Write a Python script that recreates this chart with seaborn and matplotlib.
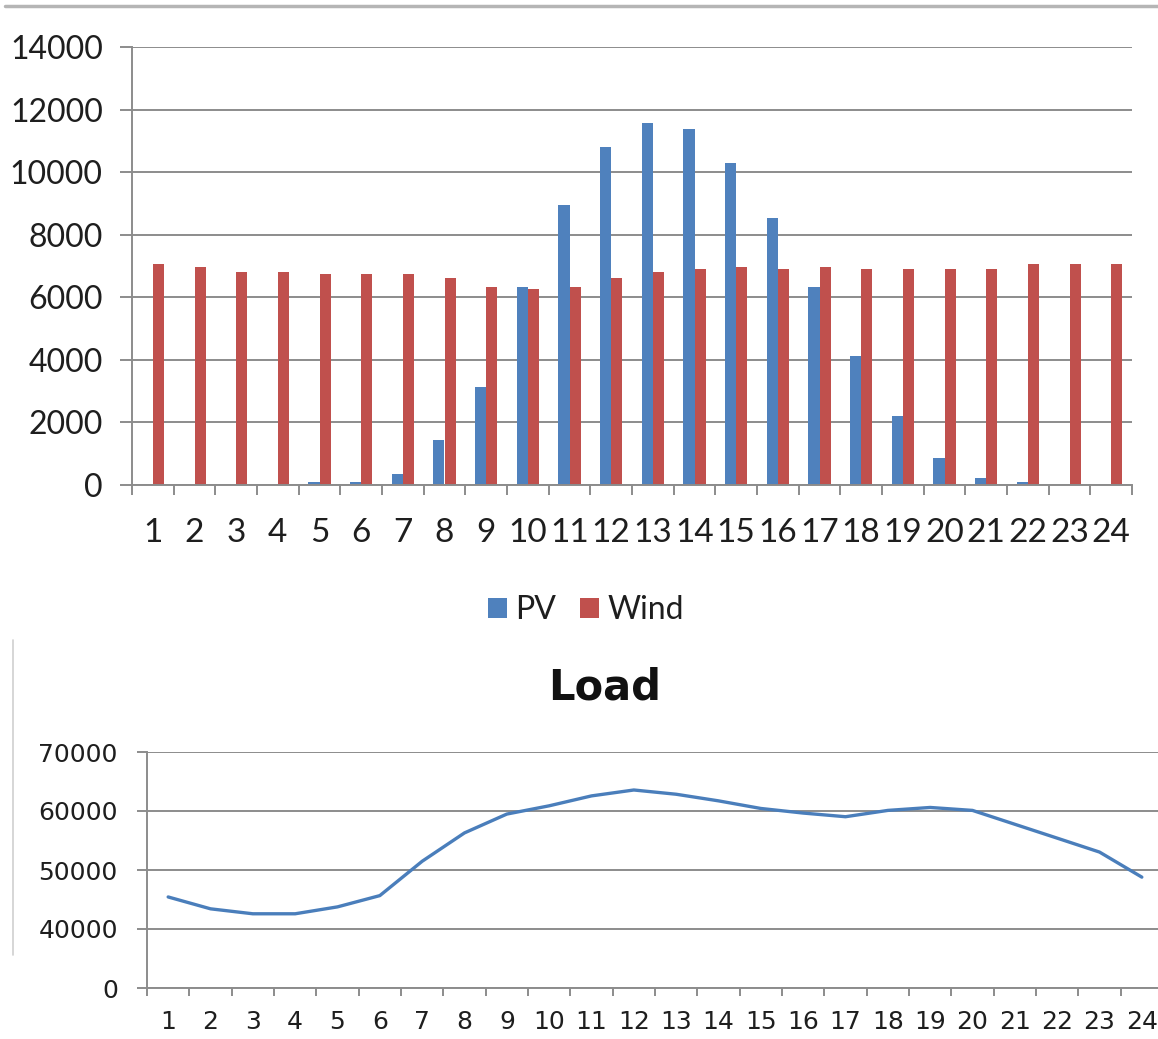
import matplotlib
matplotlib.use("Agg")
import matplotlib.pyplot as plt
import seaborn as sns
import pandas as pd
import numpy as np
from matplotlib.lines import Line2D
from matplotlib.patches import Patch

# ---------------- data ----------------
hours = [1, 2, 3, 4, 5, 6, 7, 8, 9, 10, 11, 12,
         13, 14, 15, 16, 17, 18, 19, 20, 21, 22, 23, 24]
pv = [0, 0, 0, 0, 80, 80, 350, 1430, 3130, 6330, 8960, 10790,
      11580, 11370, 10300, 8530, 6330, 4130, 2210, 860, 220, 80, 0, 0]
wind = [7050, 6980, 6820, 6820, 6750, 6750, 6750, 6610, 6330, 6270, 6330, 6610,
        6820, 6910, 6980, 6910, 6980, 6910, 6910, 6910, 6910, 7050, 7050, 7050]
load = [45430, 43420, 42580, 42580, 43750, 45660, 51480, 56290, 59480, 60880, 62560, 63560,
        62840, 61720, 60430, 59650, 59030, 60100, 60600, 60100, 57750, 55400, 53040, 48790]
series_names = ["PV", "Wind"]
top_yticks = [0, 2000, 4000, 6000, 8000, 10000, 12000, 14000]
load_yticks = [30000, 40000, 50000, 60000, 70000]
load_yticklabels = ["0", "40000", "50000", "60000", "70000"]
load_title = "Load"

BLUE = "#4F81BD"
RED = "#C0504D"
LINE = "#4A7EBB"
GRID = "#8c8c8c"
TXT = "#1e1e1e"

sns.set_theme(style="white")
plt.rcParams["font.family"] = ["Lato", "DejaVu Sans"]

W, H = 1158, 1039
fig = plt.figure(figsize=(W / 100, H / 100), dpi=100)

# ---------------- top: bar chart ----------------
df = pd.DataFrame({
    "hour": hours * 2,
    "value": pv + wind,
    "series": [series_names[0]] * len(hours) + [series_names[1]] * len(hours),
})
ax1 = fig.add_axes([132 / W, 1 - 485 / H, 1000 / W, 438 / H])
sns.barplot(data=df, x="hour", y="value", hue="series", hue_order=series_names,
            palette=[BLUE, RED], width=0.53, saturation=1, legend=False,
            linewidth=0, ax=ax1)
ax1.set_xlim(-0.5, len(hours) - 0.5)
ax1.set_ylim(top_yticks[0], top_yticks[-1])
ax1.set_yticks(top_yticks)
ax1.set_yticklabels([str(t) for t in top_yticks])
ax1.set_xlabel("")
ax1.set_ylabel("")
ax1.set_axisbelow(True)
ax1.yaxis.grid(True, color=GRID, linewidth=1.4)
for s in ["top", "right"]:
    ax1.spines[s].set_visible(False)
for s in ["left", "bottom"]:
    ax1.spines[s].set_color(GRID)
    ax1.spines[s].set_linewidth(1.4)
ax1.set_xticks(np.arange(-0.5, len(hours), 1.0), minor=True)
ax1.tick_params(axis="x", which="major", length=0, pad=24, labelsize=24, labelcolor=TXT)
ax1.tick_params(axis="x", which="minor", length=7, width=1.4, color=GRID, direction="out", bottom=True)
ax1.tick_params(axis="y", which="major", length=9, width=1.4, color=GRID, direction="out",
                left=True, pad=12, labelsize=23, labelcolor=TXT)

handles = [Patch(facecolor=BLUE, edgecolor="none"), Patch(facecolor=RED, edgecolor="none")]
fig.legend(handles, series_names, loc="center", bbox_to_anchor=(586 / W, 1 - 610 / H),
           ncol=2, frameon=False, fontsize=23, handlelength=0.6, handleheight=0.6,
           handletextpad=0.25, columnspacing=0.75, labelcolor=TXT)

# ---------------- bottom: load line ----------------
ax2 = fig.add_axes([147 / W, 1 - 988 / H, 1016 / W, 236 / H])
sns.lineplot(x=hours, y=load, ax=ax2, color=LINE, linewidth=2.4)
ax2.set_xlim(hours[0] - 0.5, hours[-1] + 0.5)
ax2.set_ylim(load_yticks[0], load_yticks[-1])
ax2.set_yticks(load_yticks)
ax2.set_yticklabels(load_yticklabels, family="DejaVu Sans")
ax2.set_xticks(hours)
ax2.set_xticklabels([str(h) for h in hours], family="DejaVu Sans")
ax2.set_xticks(np.arange(hours[0] - 0.5, hours[-1] + 1, 1.0), minor=True)
ax2.set_axisbelow(True)
ax2.yaxis.grid(True, color=GRID, linewidth=1.4)
for s in ["top", "right"]:
    ax2.spines[s].set_visible(False)
for s in ["left", "bottom"]:
    ax2.spines[s].set_color(GRID)
    ax2.spines[s].set_linewidth(1.4)
ax2.tick_params(axis="x", which="major", length=0, pad=16, labelsize=18, labelcolor=TXT)
ax2.tick_params(axis="x", which="minor", length=6, width=1.4, color=GRID, direction="out", bottom=True)
ax2.tick_params(axis="y", which="major", length=7, width=1.4, color=GRID, direction="out",
                left=True, pad=14, labelsize=18, labelcolor=TXT)
fig.text(605 / W, 1 - 688 / H, load_title, ha="center", va="center",
         fontsize=30, fontweight="bold", color="#111111", family="DejaVu Sans")

# chart frame remnants
fig.add_artist(Line2D([5 / W, 1.0], [1 - 6 / H, 1 - 6 / H], color="#b5b5b5", linewidth=2.5))
fig.add_artist(Line2D([13 / W, 13 / W], [1 - 640 / H, 1 - 955 / H], color="#d0d0d0", linewidth=1.2))

fig.savefig("out.png", dpi=100)
